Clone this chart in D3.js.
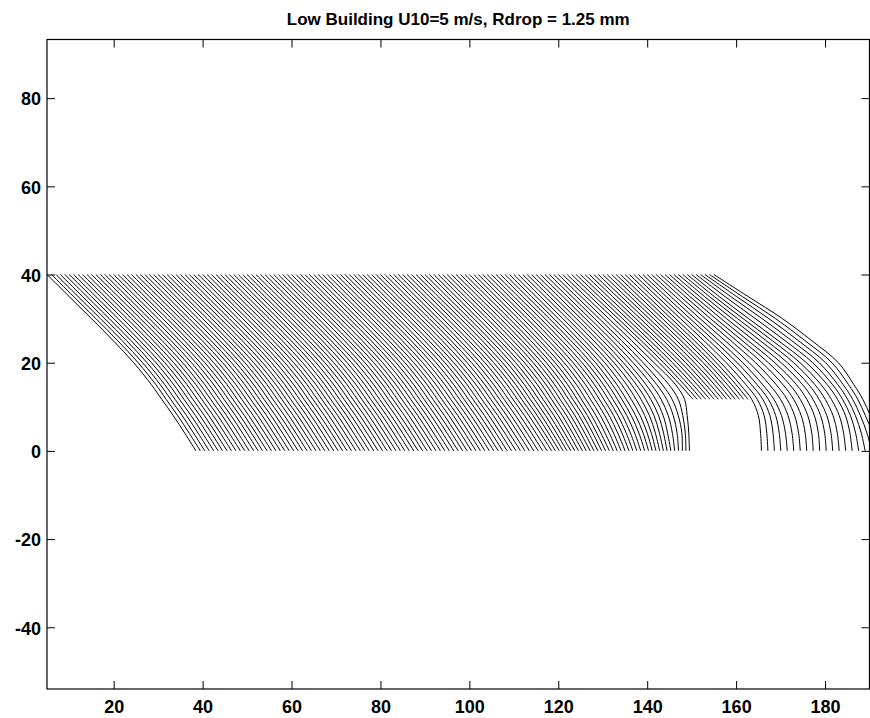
<!DOCTYPE html>
<html>
<head>
<meta charset="utf-8">
<script src="https://cdn.jsdelivr.net/npm/d3@7"></script>
<style>
  body { margin: 0; background: #fff; }
  svg { display: block; }
  text { font-family: "Liberation Sans", Arial, sans-serif; font-weight: bold; fill: #000; }
</style>
</head>
<body>
<svg id="viz" width="870" height="718"></svg>
<script>
// --- Data ---
const title = "Low Building U10=5 m/s, Rdrop = 1.25 mm";
const xTicks = [20, 40, 60, 80, 100, 120, 140, 160, 180];
const yTicks = [-40, -20, 0, 20, 40, 60, 80];

// release points of the drops (all at 40 m)
const startX = [
  5, 6, 7, 8, 9, 10, 11, 12, 13, 14, 15, 16, 17, 18, 19, 20, 21, 22, 23, 24,
  25, 26, 27, 28, 29, 30, 31, 32, 33, 34, 35, 36, 37, 38, 39, 40, 41, 42, 43, 44,
  45, 46, 47, 48, 49, 50, 51, 52, 53, 54, 55, 56, 57, 58, 59, 60, 61, 62, 63, 64,
  65, 66, 67, 68, 69, 70, 71, 72, 73, 74, 75, 76, 77, 78, 79, 80, 81, 82, 83, 84,
  85, 86, 87, 88, 89, 90, 91, 92, 93, 94, 95, 96, 97, 98, 99, 100, 101, 102, 103, 104,
  105, 106, 107, 108, 109, 110, 111, 112, 113, 114, 115, 116, 117, 118, 119, 120, 121, 122, 123, 124,
  125, 126, 127, 128, 129, 130, 131, 132, 133, 134, 135, 136, 137, 138, 139, 140, 141, 142, 143, 144,
  145, 146, 147, 148, 149, 150, 151, 152, 153, 154, 155
];

// undisturbed trajectory: height vs horizontal drift
const heights   = [40, 35, 30, 25, 20, 15, 11.7, 8, 4, 0];
const freeDrift = [0, 5, 10, 14.9, 19.5, 23.5, 25.8, 28.4, 31.0, 33.5];

// roof level = heights[6]
const roofTop = 11.7;
const roofDrops = [122, 135];   // first and last drop that lands on the roof

// extra drift caused by the building for the drops released at these x,
// at each of the heights above (roof rows stop at roof level)
const nearX = [85, 100, 110, 116, 119, 121, 122, 128, 135, 136, 140, 145, 150, 155];
const nearDrift = [
  [0, 0, 0, 0, 0, 0, 0, 0, 0, 0],
  [0, 0, 0, -0.1, -0.2, -0.4, -0.6, -0.9, -1.4, -2.0],
  [0, 0, 0, -0.05, -0.1, -0.3, -0.5, -1.0, -1.9, -3.2],
  [0, 0.05, 0.1, 0.15, 0.2, 0.25, 0.1, -0.8, -2.4, -4.2],
  [0, 0.1, 0.2, 0.35, 0.6, 0.9, 0.8, -0.4, -2.2, -4.6],
  [0, 0.15, 0.35, 0.6, 1.05, 1.9, 1.6, -0.4, -2.65, -5.0],
  [0, 0.2, 0.45, 0.75, 1.2, 1.9, 2.5],
  [0, 0.2, 0.45, 0.75, 1.15, 1.7, 2.2],
  [0, 0.2, 0.4, 0.7, 1.05, 1.5, 1.85],
  [0, 0.2, 0.4, 0.7, 1.05, 1.45, 1.7, 0.6, -1.5, -3.8],
  [0, 0.3, 0.7, 1.3, 2.0, 2.5, 2.7, 1.8, 0.1, -2.0],
  [0, 0.7, 1.6, 2.8, 4.2, 5.1, 5.1, 4.2, 2.5, 0.3],
  [0, 1.2, 2.8, 4.6, 6.3, 7.0, 7.0, 6.2, 4.6, 2.6],
  [0, 2.7, 5.4, 7.1, 8.5, 8.0, 7.7, 6.8, 6.0, 4.9]
];

// --- Layout ---
const svg = d3.select("#viz");
const xMin = 5, xMax = 190, yMin = -54, yMax = 93.3;
const x = d3.scaleLinear().domain([xMin, xMax]).range([47, 869.5]);
const y = d3.scaleLinear().domain([yMin, yMax]).range([689, 39.5]);

svg.append("defs").append("clipPath").attr("id", "plot")
  .append("rect")
  .attr("x", x(xMin)).attr("y", y(yMax))
  .attr("width", x(xMax) - x(xMin)).attr("height", y(yMin) - y(yMax));

// --- Trajectories ---
function extraDrift(s, j) {
  if (s <= nearX[0]) return 0;
  const k = d3.bisectRight(nearX, s) - 1;
  if (nearX[k] === s) return nearDrift[k][j];
  const t = (s - nearX[k]) / (nearX[k + 1] - nearX[k]);
  return (1 - t) * nearDrift[k][j] + t * nearDrift[k + 1][j];
}

function trajectory(s) {
  const onRoof = s >= roofDrops[0] && s <= roofDrops[1];
  const n = onRoof ? heights.indexOf(roofTop) + 1 : heights.length;
  return heights.slice(0, n).map((h, j) => [s + freeDrift[j] + extraDrift(s, j), h]);
}

const line = d3.line()
  .x(d => x(d[0]))
  .y(d => y(d[1]))
  .curve(d3.curveCatmullRom.alpha(0.5));

svg.append("g")
  .attr("clip-path", "url(#plot)")
  .selectAll("path")
  .data(startX)
  .join("path")
  .attr("d", s => line(trajectory(s)))
  .attr("fill", "none")
  .attr("stroke", "#000")
  .attr("stroke-width", 1);

// --- Axes (MATLAB style box, ticks inside) ---
const tickLen = 8;
const fmt = d => String(d);
const axes = svg.append("g");

axes.append("g")
  .attr("transform", `translate(0,${y(yMin)})`)
  .call(d3.axisBottom(x).tickValues(xTicks).tickFormat(fmt).tickSizeInner(-tickLen).tickSizeOuter(0).tickPadding(11))
  .call(g => g.select(".domain").remove());

axes.append("g")
  .attr("transform", `translate(0,${y(yMax)})`)
  .call(d3.axisTop(x).tickValues(xTicks).tickSizeInner(-tickLen).tickSizeOuter(0).tickFormat(""))
  .call(g => g.select(".domain").remove());

axes.append("g")
  .attr("transform", `translate(${x(xMin)},0)`)
  .call(d3.axisLeft(y).tickValues(yTicks).tickFormat(fmt).tickSizeInner(-tickLen).tickSizeOuter(0).tickPadding(6))
  .call(g => g.select(".domain").remove())
  .call(g => g.selectAll("text").attr("dy", "0.38em"));

axes.append("g")
  .attr("transform", `translate(${x(xMax)},0)`)
  .call(d3.axisRight(y).tickValues(yTicks).tickSizeInner(-tickLen).tickSizeOuter(0).tickFormat(""))
  .call(g => g.select(".domain").remove());

axes.selectAll(".tick line").attr("stroke", "#000").attr("stroke-width", 1);
axes.selectAll("text").attr("font-family", null).attr("font-size", 18);

axes.append("rect")
  .attr("x", x(xMin)).attr("y", y(yMax))
  .attr("width", x(xMax) - x(xMin)).attr("height", y(yMin) - y(yMax))
  .attr("fill", "none").attr("stroke", "#000").attr("stroke-width", 1.2);

svg.append("text")
  .attr("x", (x(xMin) + x(xMax)) / 2)
  .attr("y", 25)
  .attr("text-anchor", "middle")
  .attr("font-size", 17)
  .text(title);
</script>
</body>
</html>
